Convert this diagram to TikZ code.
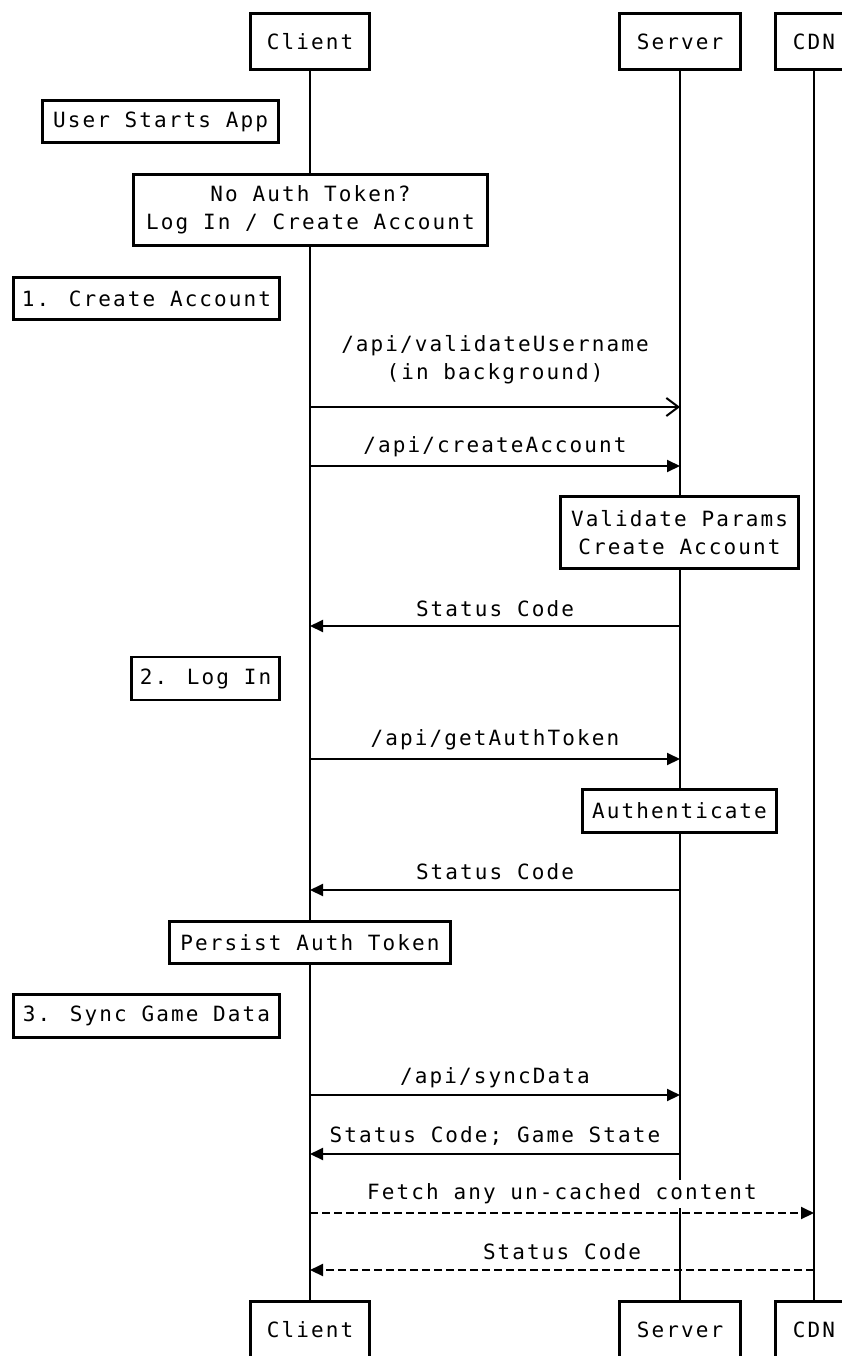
\documentclass[tikz,border=0pt]{standalone}
\usepackage{fontspec}
\setmainfont{DejaVu Sans Mono}[LetterSpace=10]
\usetikzlibrary{arrows.meta}
\newcommand{\diagfont}{\fontsize{21}{28}\selectfont}
\begin{document}
\begin{tikzpicture}[x=1pt,y=-1pt,
  actor/.style={draw, line width=2.5pt, fill=white, inner sep=0pt, minimum height=56pt, font=\diagfont},
  note/.style={draw, line width=2.5pt, fill=white, inner sep=0pt, align=center, font=\diagfont},
  life/.style={line width=2pt},
  msg/.style={line width=2pt, -{Triangle[length=13pt,width=12pt]}},
  async/.style={line width=2pt, -{Straight Barb[length=12pt,width=18pt,line width=2pt]}},
  reply/.style={msg, dash pattern=on 8pt off 4pt},
  lbl/.style={fill=white, inner xsep=2pt, inner ysep=4pt, align=center, font=\diagfont}]
\useasboundingbox (0,0) rectangle (842,1356);
\clip (0,0) rectangle (842,1356);
% actors
\node[actor, minimum width=119pt] (clientTop) at (310,41.5) {Client};
\node[actor, minimum width=121pt] (serverTop) at (680,41.5) {Server};
\node[actor, minimum width=77pt] (cdnTop) at (814,41.5) {CDN};
\node[actor, minimum width=119pt] (clientBot) at (310,1329.5) {Client};
\node[actor, minimum width=121pt] (serverBot) at (680,1329.5) {Server};
\node[actor, minimum width=77pt] (cdnBot) at (814,1329.5) {CDN};
% lifelines
\draw[life] (clientTop) -- (clientBot);
\draw[life] (serverTop) -- (serverBot);
\draw[life] (cdnTop) -- (cdnBot);
% notes
\node[note, minimum width=236pt, minimum height=42pt] (userStarts) at (160.5,121.5) {User Starts App};
\node[note, minimum width=354pt, minimum height=71pt] (noAuth) at (310.5,210) {No Auth Token?\\Log In / Create Account};
\node[note, minimum width=266pt, minimum height=42pt] (step1) at (146.5,298.5) {1. Create Account};
\node[note, minimum width=238pt, minimum height=72pt] (validate) at (679.5,532.5) {Validate Params\\Create Account};
\node[note, minimum width=148pt, minimum height=43pt] (step2) at (205.5,678.5) {2. Log In};
\node[note, minimum width=194pt, minimum height=43pt] (authenticate) at (679.5,811) {Authenticate};
\node[note, minimum width=281pt, minimum height=42pt] (persist) at (310,942.5) {Persist Auth Token};
\node[note, minimum width=266pt, minimum height=43pt] (step3) at (146.5,1016) {3. Sync Game Data};
% messages
\draw[async] (clientTop |- 0,407) -- (serverTop |- 0,407);
\node[lbl] (l1) at (495,360) {/api/validateUsername\\(in background)};
\draw[msg] (clientTop |- 0,466) -- (serverTop |- 0,466);
\node[lbl] (l2) at (495,447) {/api/createAccount};
\draw[msg] (serverTop |- 0,626) -- (clientTop |- 0,626);
\node[lbl] (l3) at (495,609) {Status Code};
\draw[msg] (clientTop |- 0,759) -- (serverTop |- 0,759);
\node[lbl] (l4) at (495,740) {/api/getAuthToken};
\draw[msg] (serverTop |- 0,890) -- (clientTop |- 0,890);
\node[lbl] (l5) at (495,872) {Status Code};
\draw[msg] (clientTop |- 0,1095) -- (serverTop |- 0,1095);
\node[lbl] (l6) at (495,1078) {/api/syncData};
\draw[msg] (serverTop |- 0,1154) -- (clientTop |- 0,1154);
\node[lbl] (l7) at (495,1136) {Status Code; Game State};
\draw[reply] (clientTop |- 0,1213) -- (cdnTop |- 0,1213);
\node[lbl] (l8) at (562,1194) {Fetch any un-cached content};
\draw[reply] (cdnTop |- 0,1270) -- (clientTop |- 0,1270);
\node[lbl] (l9) at (562,1252) {Status Code};
\end{tikzpicture}
\end{document}
